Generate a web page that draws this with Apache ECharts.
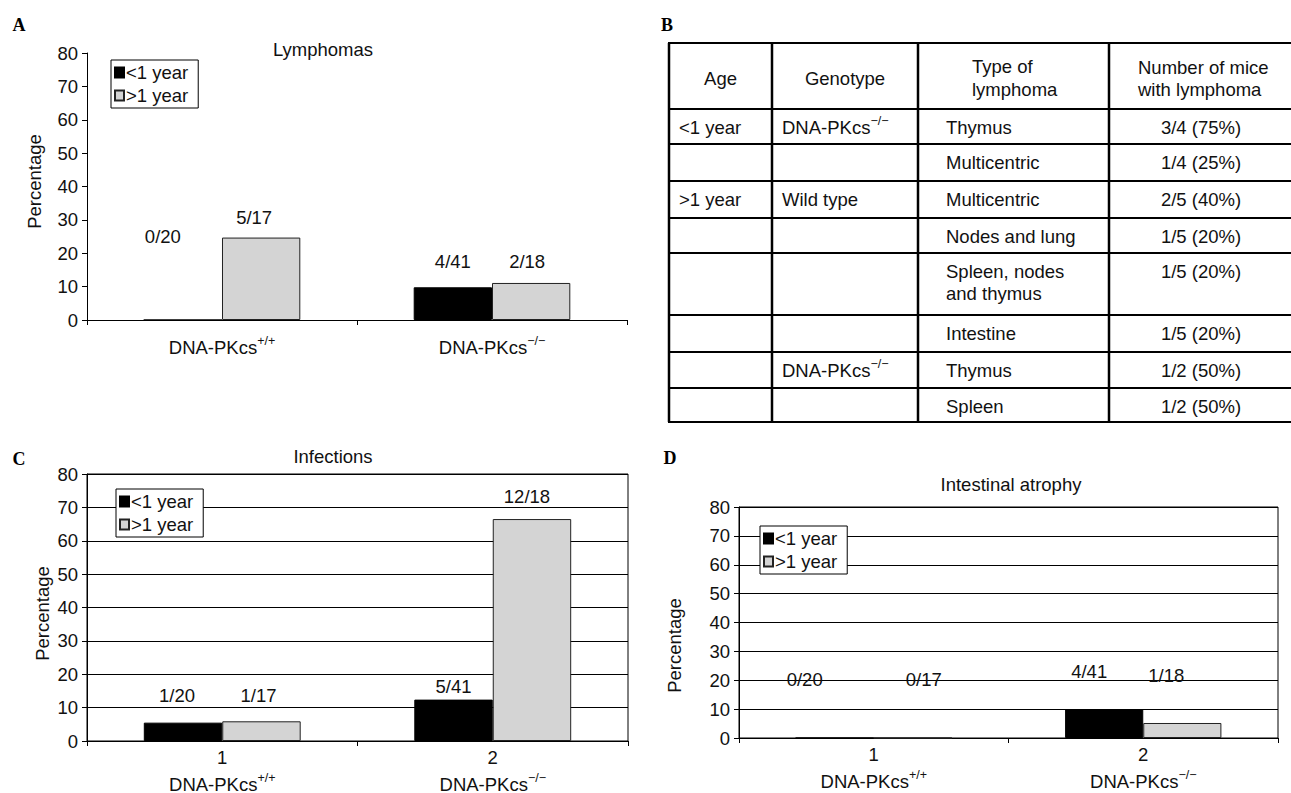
<!DOCTYPE html>
<html>
<head>
<meta charset="utf-8">
<script src="https://cdn.jsdelivr.net/npm/echarts@6/dist/echarts.min.js"></script>
<style>
html,body{margin:0;padding:0;background:#fff;}
#c{width:1291px;height:793px;}
</style>
</head>
<body>
<div id="c"></div>
<script>
// ---------------- DATA ----------------
const seriesNames = ['<1 year', '>1 year'];
const genotypes = ['DNA-PKcs+/+', 'DNA-PKcs\u2212/\u2212'];
const groupNumbers = ['1', '2'];
const yTicks = [0, 10, 20, 30, 40, 50, 60, 70, 80];

const lymphomaYoung = [0, 9.8];
const lymphomaOld = [24.7, 11.1];
const lymphomaLabelsYoung = ['0/20', '4/41'];
const lymphomaLabelsOld = ['5/17', '2/18'];

const infectionYoung = [5.5, 12.4];
const infectionOld = [5.9, 66.5];
const infectionLabelsYoung = ['1/20', '5/41'];
const infectionLabelsOld = ['1/17', '12/18'];

const atrophyYoung = [0, 10.0];
const atrophyOld = [0, 5.2];
const atrophyLabelsYoung = ['0/20', '4/41'];
const atrophyLabelsOld = ['0/17', '1/18'];

const tableHeader = ['Age', 'Genotype', 'Type of\nlymphoma', 'Number of mice\nwith lymphoma'];
const tableAge = ['<1 year', '', '>1 year', '', '', '', '', ''];
const tableGenotype = ['DNA-PKcs\u2212/\u2212', '', 'Wild type', '', '', '', 'DNA-PKcs\u2212/\u2212', ''];
const tableType = ['Thymus', 'Multicentric', 'Multicentric', 'Nodes and lung', 'Spleen, nodes\nand thymus', 'Intestine', 'Thymus', 'Spleen'];
const tableCount = ['3/4 (75%)', '1/4 (25%)', '2/5 (40%)', '1/5 (20%)', '1/5 (20%)', '1/5 (20%)', '1/2 (50%)', '1/2 (50%)'];

// ---------------- STYLE / LAYOUT ----------------
const FONT = '"Liberation Sans", Arial, Helvetica, sans-serif';
const FS = 18.5;
const INK = '#111';
const GRAY = '#d4d4d4';
const BAR_FRAC = 0.29;

const richSup = {
  b: {fontSize: FS, fontFamily: FONT, color: INK, lineHeight: 26},
  s: {fontSize: 12.5, fontFamily: FONT, color: INK, verticalAlign: 'top', lineHeight: 14},
  n: {fontSize: FS, fontFamily: FONT, color: INK, lineHeight: 28}
};
function supText(g) {
  return '{b|DNA-PKcs}{s|' + g.slice(8) + '}';
}

const panels = [
  {
    grid: {left: 87, top: 53, width: 540, height: 267},
    numbered: false, gridLines: false,
    young: lymphomaYoung, old: lymphomaOld,
    textsYoung: lymphomaLabelsYoung, textsOld: lymphomaLabelsOld,
    levels: [[24.9, 17.4], [30.6, 17.4]],
    dx: [[-20, 0], [-7, -4]],
    legend: {left: 111, top: 60},
    title: {text: 'Lymphomas', x: 323, y: 40},
    nameGap: 43, namePad: [0, 0, 0, 10], labelMargin: 14
  },
  {
    grid: {left: 87, top: 474, width: 541, height: 267},
    numbered: true, gridLines: true,
    young: infectionYoung, old: infectionOld,
    textsYoung: infectionLabelsYoung, textsOld: infectionLabelsOld,
    levels: [[13.5, 16.2], [13.5, 73.4]],
    dx: [[-6, 0], [-3, -5]],
    legend: {left: 116, top: 489},
    title: {text: 'Infections', x: 333, y: 447},
    nameGap: 35, namePad: [0, 12, 0, 0], labelMargin: 2
  },
  {
    grid: {left: 739, top: 507, width: 539, height: 231},
    numbered: true, gridLines: true,
    young: atrophyYoung, old: atrophyOld,
    textsYoung: atrophyLabelsYoung, textsOld: atrophyLabelsOld,
    levels: [[20.4, 23.2], [20.4, 21.8]],
    dx: [[-30, -15], [11, -16]],
    legend: {left: 760, top: 526},
    title: {text: 'Intestinal atrophy', x: 1011, y: 475},
    nameGap: 55, namePad: [0, 46, 0, 0], labelMargin: 2
  }
];

const grids = [], xAxes = [], yAxes = [], series = [], legends = [], titles = [];

panels.forEach((p, i) => {
  grids.push(Object.assign({
    show: p.gridLines, borderColor: '#000', borderWidth: 1,
    outerBoundsMode: 'none', containLabel: false
  }, p.grid));

  xAxes.push({
    type: 'category', gridIndex: i,
    data: p.numbered ? groupNumbers : genotypes,
    boundaryGap: true,
    axisLine: {show: true, lineStyle: {color: '#000', width: 1}},
    axisTick: {show: true, length: 5, alignWithLabel: false, lineStyle: {color: '#000'}},
    axisLabel: {
      interval: 0, margin: p.labelMargin, color: INK,
      formatter: p.numbered
        ? (v, idx) => '{n|' + v + '}\n' + supText(genotypes[idx])
        : (v) => supText(v),
      rich: richSup
    },
    splitLine: {show: false}
  });

  yAxes.push({
    type: 'value', gridIndex: i,
    min: yTicks[0], max: yTicks[yTicks.length - 1], interval: yTicks[1] - yTicks[0],
    name: 'Percentage', nameLocation: 'middle', nameRotate: 90, nameGap: p.nameGap,
    nameTextStyle: {fontSize: FS, fontFamily: FONT, color: INK, padding: p.namePad},
    axisLine: {show: true, lineStyle: {color: '#000', width: 1}},
    axisTick: {show: true, length: 5, lineStyle: {color: '#000'}},
    axisLabel: {fontSize: FS, fontFamily: FONT, color: INK, margin: 9},
    splitLine: {show: p.gridLines, lineStyle: {color: '#000', width: 1}}
  });

  series.push({
    type: 'bar', name: seriesNames[0], xAxisIndex: i, yAxisIndex: i,
    data: p.young, barWidth: (BAR_FRAC * 100) + '%', barGap: '0%', silent: true,
    itemStyle: {color: '#000', borderColor: '#000', borderWidth: 1}
  });
  series.push({
    type: 'bar', name: seriesNames[1], xAxisIndex: i, yAxisIndex: i,
    data: p.old, barWidth: (BAR_FRAC * 100) + '%', barGap: '0%', silent: true,
    itemStyle: {color: GRAY, borderColor: '#222', borderWidth: 1}
  });

  const labelData = [], labelTexts = [];
  [p.textsYoung, p.textsOld].forEach((texts, s) => {
    texts.forEach((t, c) => {
      labelData.push([c, p.levels[s][c], s, p.dx[s][c]]);
      labelTexts.push(t);
    });
  });
  series.push({
    type: 'custom', xAxisIndex: i, yAxisIndex: i, silent: true, clip: false, z: 10,
    data: labelData,
    renderItem: (params, api) => {
      const c = api.value(0), v = api.value(1), s = api.value(2), d = api.value(3);
      const pt = api.coord([c, v]);
      const band = api.size([1, 0])[0];
      const x = pt[0] + (s - 0.5) * band * BAR_FRAC + d;
      return {
        type: 'text', x: x, y: pt[1],
        style: {
          text: labelTexts[params.dataIndex],
          align: 'center', verticalAlign: 'middle',
          fontSize: FS, fontFamily: FONT, fill: INK
        }
      };
    }
  });

  legends.push({
    data: seriesNames, orient: 'vertical',
    left: p.legend.left, top: p.legend.top,
    icon: 'rect', itemWidth: 9, itemHeight: 10, itemGap: 4,
    padding: [3, 10, 3, 3],
    borderColor: '#000', borderWidth: 1, backgroundColor: '#fff',
    selectedMode: false,
    textStyle: {fontSize: FS, fontFamily: FONT, color: INK, padding: [0, 0, 0, -3]}
  });

  titles.push({
    text: p.title.text, left: p.title.x, top: p.title.y, textAlign: 'center', padding: 0,
    textStyle: {fontSize: FS, fontWeight: 'normal', fontFamily: FONT, color: INK}
  });
});

// ---------------- TABLE (panel B) ----------------
const tblCols = [669, 772, 918, 1109];
const tblRight = 1291;
const tblRows = [43, 109, 144, 181, 218, 253, 315, 352, 388, 422];
const graphics = [];

tblRows.forEach(y => graphics.push({
  type: 'line', shape: {x1: tblCols[0] - 1, y1: y, x2: tblRight, y2: y},
  style: {stroke: '#000', lineWidth: 2}, silent: true
}));
tblCols.forEach(x => graphics.push({
  type: 'line', shape: {x1: x, y1: tblRows[0], x2: x, y2: tblRows[tblRows.length - 1]},
  style: {stroke: '#000', lineWidth: 2.5}, silent: true
}));

function genoText(text, x, y) {
  if (text.indexOf('DNA-PKcs') === 0) {
    return {
      type: 'text', x: x, y: y, silent: true,
      style: {text: supText(text), rich: richSup, align: 'left', verticalAlign: 'middle',
        fontSize: FS, fontFamily: FONT, fill: INK}
    };
  }
  return {
    type: 'text', x: x, y: y, silent: true,
    style: {text: text, fontSize: FS, fontFamily: FONT, fill: INK, align: 'left', verticalAlign: 'middle'}
  };
}

// header
const hTop = tblRows[0], hBot = tblRows[1];
graphics.push({type: 'text', x: (tblCols[0] + tblCols[1]) / 2, y: (hTop + hBot) / 2 + 2, silent: true,
  style: {text: tableHeader[0], fontSize: FS, fontFamily: FONT, fill: INK, align: 'center', verticalAlign: 'middle'}});
graphics.push({type: 'text', x: (tblCols[1] + tblCols[2]) / 2, y: (hTop + hBot) / 2 + 2, silent: true,
  style: {text: tableHeader[1], fontSize: FS, fontFamily: FONT, fill: INK, align: 'center', verticalAlign: 'middle'}});
graphics.push({type: 'text', x: 972, y: (hTop + hBot) / 2 + 2, silent: true,
  style: {text: tableHeader[2], fontSize: FS, fontFamily: FONT, fill: INK, align: 'left', verticalAlign: 'middle', lineHeight: 23}});
graphics.push({type: 'text', x: 1138, y: (hTop + hBot) / 2 + 2, silent: true,
  style: {text: tableHeader[3], fontSize: FS, fontFamily: FONT, fill: INK, align: 'left', verticalAlign: 'middle', lineHeight: 22}});

// body
for (let r = 0; r < tableType.length; r++) {
  const top = tblRows[r + 1];
  const yc = top + 18.5;
  if (tableAge[r]) graphics.push(genoText(tableAge[r], 679, yc));
  if (tableGenotype[r]) graphics.push(genoText(tableGenotype[r], 782, yc));
  graphics.push({type: 'text', x: 946, y: yc - 11, silent: true,
    style: {text: tableType[r], fontSize: FS, fontFamily: FONT, fill: INK, align: 'left', verticalAlign: 'top', lineHeight: 22}});
  graphics.push({type: 'text', x: 1201, y: yc, silent: true,
    style: {text: tableCount[r], fontSize: FS, fontFamily: FONT, fill: INK, align: 'center', verticalAlign: 'middle'}});
}

// panel letters
[['A', 19, 25], ['B', 667, 25], ['C', 19, 459], ['D', 670, 458]].forEach(l => graphics.push({
  type: 'text', x: l[1], y: l[2], silent: true,
  style: {text: l[0], fontSize: 18, fontWeight: 'bold', fontFamily: '"Liberation Serif", "DejaVu Serif", serif',
    fill: '#000', align: 'center', verticalAlign: 'middle'}
}));

const chart = echarts.init(document.getElementById('c'), null, {renderer: 'svg', width: 1291, height: 793});
chart.setOption({
  animation: false,
  backgroundColor: '#fff',
  textStyle: {fontFamily: FONT, color: INK},
  title: titles,
  legend: legends,
  grid: grids,
  xAxis: xAxes,
  yAxis: yAxes,
  series: series,
  graphic: {elements: graphics}
});
</script>
</body>
</html>
